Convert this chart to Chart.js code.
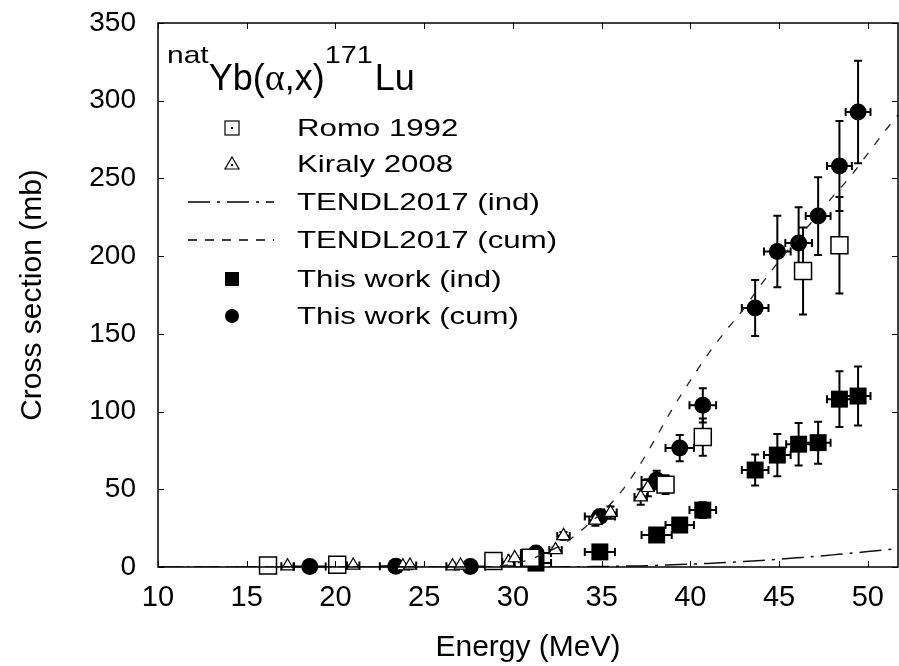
<!DOCTYPE html>
<html>
<head>
<meta charset="utf-8">
<script src="https://cdn.jsdelivr.net/npm/chart.js@4.4.0/dist/chart.umd.min.js"></script>
<style>
  html, body { margin: 0; padding: 0; background: #fff; }
</style>
</head>
<body>
<canvas id="myChart" width="899" height="666"></canvas>
<script>
const FONT = '"Liberation Sans", Arial, sans-serif'

// axis ticks
const xTicks = [10, 15, 20, 25, 30, 35, 40, 45, 50]
const yTicks = [0, 50, 100, 150, 200, 250, 300, 350]

// Romo 1992
const romoE = [16.2, 20.1, 28.9, 31.0, 38.6, 40.7, 46.35, 48.4]
const romoXS = [1, 1.5, 3.8, 6, 53, 83.6, 190.5, 207]
const romoErr = [0.3, 0.3, 0.5, 1, 6, 12, 28, 31]

// Kiraly 2008
const kiralyE = [17.3, 20.2, 21.0, 23.8, 24.2, 26.6, 27.05, 29.75, 30.1, 32.4, 32.85, 34.65, 35.5, 37.2, 37.6]
const kiralyXS = [0.5, 1, 1, 0.5, 1, 0.5, 1, 3.2, 5.8, 11, 20, 30, 35, 45, 51]
const kiralyErr = [0.2, 0.2, 0.2, 0.2, 0.2, 0.2, 0.2, 0.5, 1, 1.5, 2.5, 3.5, 4, 5, 5.5]
const kiralyXErr = [0.35, 0.35, 0.35, 0.35, 0.35, 0.35, 0.35, 0.35, 0.35, 0.35, 0.35, 0.35, 0.35, 0.35, 0.35]

// TENDL2017
const tendlE = [10, 26, 28, 29, 30, 31, 32, 33, 34, 35, 36, 37, 38, 39, 40, 41, 42, 43, 44, 45, 46, 47, 48, 49, 50, 51, 52]
const tendlInd = [0, 0, 0, 0, 0, 0, 0.05, 0.1, 0.2, 0.3, 0.5, 0.7, 1, 1.4, 1.8, 2.3, 2.9, 3.5, 4.2, 5, 5.9, 6.8, 7.8, 8.8, 9.9, 11, 12.2]
const tendlCum = [0, 0, 0, 0.5, 2, 5, 10, 16, 25, 35, 47, 63, 82, 102, 120, 137, 152, 166, 182, 197, 211, 224, 238, 251, 266, 281, 295]

// This work (ind)
const indE = [31.3, 34.9, 38.1, 39.4, 40.7, 43.65, 44.9, 46.1, 47.2, 48.4, 49.45]
const indXS = [2.5, 9.7, 20.6, 27, 36.6, 62.4, 72, 79, 80, 108, 110]
const indErr = [1, 1.2, 2.5, 3.5, 5, 10, 13.6, 13.7, 13.5, 18, 19]
const indXErr = [0.85, 0.85, 0.85, 0.8, 0.75, 0.75, 0.75, 0.7, 0.7, 0.7, 0.7]

// This work (cum)
const cumE = [18.55, 23.4, 27.6, 31.3, 34.9, 38.1, 39.4, 40.7, 43.65, 44.9, 46.1, 47.2, 48.4, 49.45]
const cumXS = [0.3, 0.5, 0.3, 9, 32.5, 56, 76.5, 104, 166.6, 203, 208.5, 225.8, 258, 292.7]
const cumErr = [0.2, 0.2, 0.2, 1.5, 3.5, 6, 8.5, 11, 18, 23, 23, 25, 29, 33]
const cumXErr = [0.9, 0.9, 0.85, 0.85, 0.85, 0.85, 0.8, 0.75, 0.75, 0.75, 0.75, 0.7, 0.7, 0.7]

const pts = (xs, ys) => xs.map((x, i) => ({ x, y: ys[i] }))

// error bars, drawn under the markers
const errorBars = {
    id: 'errorBars',
    beforeDatasetsDraw(chart) {
        const { ctx, scales: { x, y } } = chart
        ctx.save()
        ctx.strokeStyle = '#000'
        ctx.lineWidth = 2
        const cap = 4
        chart.data.datasets.forEach(ds => {
            if (!ds.errY) return
            ds.data.forEach((p, j) => {
                const px = x.getPixelForValue(p.x)
                const py = y.getPixelForValue(p.y)
                const ey = ds.errY[j] || 0
                const ex = ds.errX ? ds.errX[j] : 0
                ctx.beginPath()
                if (ey > 0) {
                    const y1 = y.getPixelForValue(p.y + ey)
                    const y2 = y.getPixelForValue(p.y - ey)
                    ctx.moveTo(px, y1); ctx.lineTo(px, y2)
                    ctx.moveTo(px - cap, y1); ctx.lineTo(px + cap, y1)
                    ctx.moveTo(px - cap, y2); ctx.lineTo(px + cap, y2)
                }
                if (ex > 0) {
                    const x1 = x.getPixelForValue(p.x - ex)
                    const x2 = x.getPixelForValue(p.x + ex)
                    ctx.moveTo(x1, py); ctx.lineTo(x2, py)
                    ctx.moveTo(x1, py - cap); ctx.lineTo(x1, py + cap)
                    ctx.moveTo(x2, py - cap); ctx.lineTo(x2, py + cap)
                }
                ctx.stroke()
            })
        })
        ctx.restore()
    }
}

// frame with inward ticks on all four sides
const frame = {
    id: 'frame',
    afterDraw(chart) {
        const { ctx, chartArea: a, scales: { x, y } } = chart
        ctx.save()
        ctx.strokeStyle = '#000'
        ctx.lineWidth = 1.5
        ctx.strokeRect(a.left, a.top, a.right - a.left, a.bottom - a.top)
        ctx.lineWidth = 1
        ctx.beginPath()
        xTicks.forEach(v => {
            const px = Math.round(x.getPixelForValue(v)) + 0.5
            ctx.moveTo(px, a.bottom); ctx.lineTo(px, a.bottom - 6)
            ctx.moveTo(px, a.top); ctx.lineTo(px, a.top + 6)
        })
        yTicks.forEach(v => {
            const py = Math.round(y.getPixelForValue(v)) + 0.5
            ctx.moveTo(a.left, py); ctx.lineTo(a.left + 6, py)
            ctx.moveTo(a.right, py); ctx.lineTo(a.right - 6, py)
        })
        ctx.stroke()
        ctx.restore()
    }
}

function wideText(ctx, text, x, y, font, sx) {
    ctx.save()
    ctx.font = font
    ctx.translate(x, y)
    ctx.scale(sx, 1)
    ctx.fillText(text, 0, 0)
    const w = ctx.measureText(text).width * sx
    ctx.restore()
    return w
}

// reaction label and legend inside the plot
const legendBox = {
    id: 'legendBox',
    afterDraw(chart) {
        const ctx = chart.ctx
        ctx.save()
        ctx.fillStyle = '#000'
        ctx.strokeStyle = '#000'
        ctx.textAlign = 'left'
        ctx.textBaseline = 'alphabetic'

        let tx = 167
        tx += wideText(ctx, 'nat', tx, 63, '24px ' + FONT, 1.25)
        tx += wideText(ctx, 'Yb(', tx, 90, '36px ' + FONT, 1)
        tx += wideText(ctx, 'α', tx, 90, '38px "Liberation Serif", serif', 1)
        tx += wideText(ctx, ',x)', tx, 90, '36px ' + FONT, 1)
        tx += wideText(ctx, '171', tx, 63, '24px ' + FONT, 1.2)
        wideText(ctx, 'Lu', tx + 2, 90, '36px ' + FONT, 1)

        const labels = ['Romo 1992', 'Kiraly 2008', 'TENDL2017 (ind)', 'TENDL2017 (cum)', 'This work (ind)', 'This work (cum)']
        const rows = [128, 164, 202, 240, 279, 316]
        const sx = 232
        ctx.textBaseline = 'middle'
        labels.forEach((t, i) => wideText(ctx, t, 297, rows[i] + 1, '24px ' + FONT, 1.3))

        ctx.lineWidth = 1.2
        // open square
        ctx.strokeRect(sx - 7, rows[0] - 7, 14, 14)
        ctx.fillRect(sx - 1, rows[0] - 1, 2, 2)
        // open triangle
        ctx.beginPath()
        ctx.moveTo(sx, rows[1] - 7); ctx.lineTo(sx + 7, rows[1] + 5); ctx.lineTo(sx - 7, rows[1] + 5); ctx.closePath()
        ctx.stroke()
        ctx.fillRect(sx - 1, rows[1], 2, 2)
        // dash-dot line
        ctx.lineWidth = 1.5
        ctx.setLineDash([22, 7, 3, 7])
        ctx.beginPath(); ctx.moveTo(188, rows[2]); ctx.lineTo(274, rows[2]); ctx.stroke()
        // dashed line
        ctx.setLineDash([9, 8])
        ctx.beginPath(); ctx.moveTo(188, rows[3]); ctx.lineTo(274, rows[3]); ctx.stroke()
        ctx.setLineDash([])
        // filled square and circle
        ctx.fillRect(sx - 7, rows[4] - 7, 14, 14)
        ctx.beginPath(); ctx.arc(sx, rows[5], 7, 0, Math.PI * 2); ctx.fill()
        ctx.restore()
    }
}

Chart.defaults.font.family = FONT
Chart.defaults.color = '#000'

const canvas = document.getElementById('myChart')

const config = {
    type: 'scatter',
    data: {
        datasets: [
            {
                type: 'line',
                label: 'TENDL2017 (ind)',
                data: pts(tendlE, tendlInd),
                borderColor: '#111',
                borderWidth: 1.5,
                borderDash: [22, 7, 3, 7],
                pointRadius: 0,
                cubicInterpolationMode: 'monotone',
                fill: false
            },
            {
                type: 'line',
                label: 'TENDL2017 (cum)',
                data: pts(tendlE, tendlCum),
                borderColor: '#222',
                borderWidth: 1.3,
                borderDash: [8, 10],
                pointRadius: 0,
                cubicInterpolationMode: 'monotone',
                fill: false
            },
            {
                label: 'Romo 1992',
                data: pts(romoE, romoXS),
                errY: romoErr,
                pointStyle: 'rect',
                pointRadius: 12,
                backgroundColor: '#fff',
                borderColor: '#000',
                borderWidth: 1.5,
                clip: false
            },
            {
                label: 'Kiraly 2008',
                data: pts(kiralyE, kiralyXS),
                errY: kiralyErr,
                errX: kiralyXErr,
                pointStyle: 'triangle',
                pointRadius: 7.5,
                backgroundColor: '#fff',
                borderColor: '#000',
                borderWidth: 1.2,
                clip: false
            },
            {
                label: 'This work (ind)',
                data: pts(indE, indXS),
                errY: indErr,
                errX: indXErr,
                pointStyle: 'rect',
                pointRadius: 12,
                backgroundColor: '#000',
                borderColor: '#000',
                borderWidth: 0,
                clip: false
            },
            {
                label: 'This work (cum)',
                data: pts(cumE, cumXS),
                errY: cumErr,
                errX: cumXErr,
                pointStyle: 'circle',
                pointRadius: 8.5,
                backgroundColor: '#000',
                borderColor: '#000',
                borderWidth: 0,
                clip: false
            }
        ]
    },
    options: {
        responsive: false,
        animation: false,
        events: [],
        layout: { autoPadding: false, padding: { top: 23, right: 1, left: 0, bottom: 0 } },
        plugins: {
            legend: { display: false },
            tooltip: { enabled: false }
        },
        scales: {
            x: {
                type: 'linear',
                min: 10,
                max: 51.7,
                afterBuildTicks: s => { s.ticks = xTicks.map(v => ({ value: v })) },
                afterFit: s => { s.height = 99; s.paddingLeft = 0; s.paddingRight = 0 },
                grid: { display: false, drawTicks: false },
                border: { display: false },
                ticks: { font: { size: 29 }, color: '#000', padding: 14, autoSkip: false, maxRotation: 0 },
                title: { display: true, text: 'Energy (MeV)', font: { size: 30 }, color: '#000', padding: { top: 0, bottom: 0 } }
            },
            y: {
                type: 'linear',
                min: 0,
                max: 350,
                afterBuildTicks: s => { s.ticks = yTicks.map(v => ({ value: v })) },
                afterFit: s => { s.width = 158; s.paddingTop = 0; s.paddingBottom = 0 },
                grid: { display: false, drawTicks: false },
                border: { display: false },
                ticks: { font: { size: 28 }, color: '#000', padding: 22 },
                title: { display: true, text: 'Cross section (mb)', font: { size: 30 }, color: '#000', padding: { top: 15, bottom: 0 } }
            }
        }
    },
    plugins: [errorBars, frame, legendBox]
}

new Chart(canvas, config)
</script>
</body>
</html>
